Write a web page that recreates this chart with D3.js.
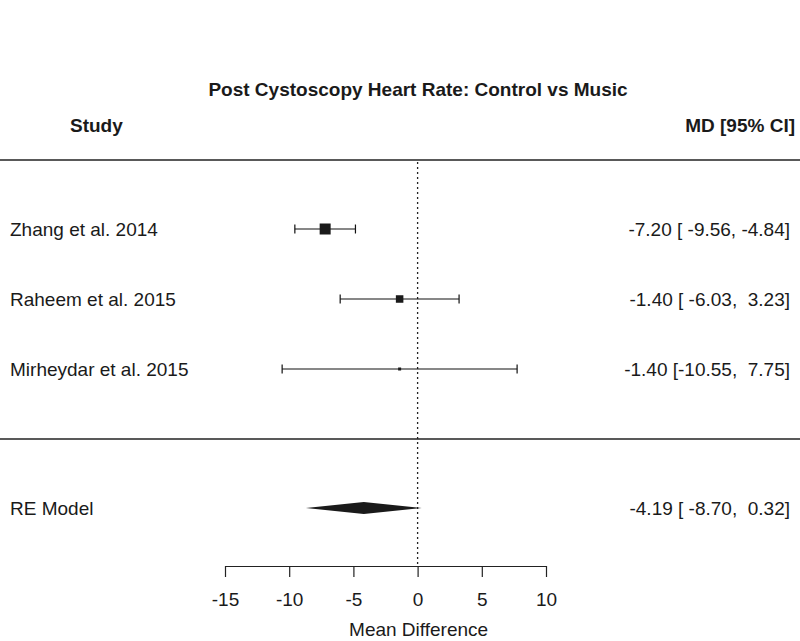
<!DOCTYPE html>
<html>
<head>
<meta charset="utf-8">
<script src="https://cdn.jsdelivr.net/npm/d3@7"></script>
<style>
  body { margin: 0; background: #fff; }
  text { font-family: "Liberation Sans", Arial, sans-serif; fill: #1a1a1a; }
</style>
</head>
<body>
<div id="chart"></div>
<script>
const studies = ["Zhang et al. 2014", "Raheem et al. 2015", "Mirheydar et al. 2015"];
const md = [-7.20, -1.40, -1.40];
const lower = [-9.56, -6.03, -10.55];
const upper = [-4.84, 3.23, 7.75];
const weights = [52, 35, 13];
const pooled = { label: "RE Model", md: -4.19, lower: -8.70, upper: 0.32 };
const xTicks = [-15, -10, -5, 0, 5, 10];

const width = 800, height = 641;
const fs = "19px";
const fmt = v => d3.format(".2f")(v).replace("\u2212", "-");
const pad = (v, n) => { const s = fmt(v); return " ".repeat(Math.max(0, n - s.length)) + s; };

const svg = d3.select("#chart").append("svg")
  .attr("width", width).attr("height", height);

const x = d3.scaleLinear().domain([-15, 10]).range([225, 546]);
// row positions: 3 studies, gap, pooled
const y = d3.scaleLinear().domain([0, 1]).range([229, 299]);
const rowY = i => y(i);
const pooledY = y(4) - 1;
const size = d3.scaleLinear().domain(d3.extent(weights)).range([3, 11]);

// title and headers
svg.append("text").attr("x", 418).attr("y", 96).attr("text-anchor", "middle")
  .style("font-size", fs).style("font-weight", "bold")
  .text("Post Cystoscopy Heart Rate: Control vs Music");
svg.append("text").attr("x", 70).attr("y", 132)
  .style("font-size", fs).style("font-weight", "bold").text("Study");
svg.append("text").attr("x", 795).attr("y", 132).attr("text-anchor", "end")
  .style("font-size", fs).style("font-weight", "bold").text("MD [95% CI]");

// separators
[160, 439].forEach(ly => svg.append("line")
  .attr("x1", 0).attr("x2", width).attr("y1", ly).attr("y2", ly)
  .attr("stroke", "#222").attr("stroke-width", 1.3));

// reference line at 0
svg.append("line")
  .attr("x1", x(0)).attr("x2", x(0)).attr("y1", 162).attr("y2", 566)
  .attr("stroke", "#222").attr("stroke-width", 1.3).attr("stroke-dasharray", "2,3");

// studies
const rows = svg.append("g").selectAll("g").data(studies).join("g");
rows.append("line")
  .attr("x1", (d, i) => x(lower[i])).attr("x2", (d, i) => x(upper[i]))
  .attr("y1", (d, i) => rowY(i)).attr("y2", (d, i) => rowY(i))
  .attr("stroke", "#111").attr("stroke-width", 1.2);
[lower, upper].forEach(arr => rows.append("line")
  .attr("x1", (d, i) => x(arr[i])).attr("x2", (d, i) => x(arr[i]))
  .attr("y1", (d, i) => rowY(i) - 4.5).attr("y2", (d, i) => rowY(i) + 4.5)
  .attr("stroke", "#111").attr("stroke-width", 1.2));
rows.append("rect")
  .attr("x", (d, i) => x(md[i]) - size(weights[i]) / 2)
  .attr("y", (d, i) => rowY(i) - size(weights[i]) / 2)
  .attr("width", (d, i) => size(weights[i]))
  .attr("height", (d, i) => size(weights[i]))
  .attr("fill", "#1a1a1a");
rows.append("text").attr("x", 10).attr("y", (d, i) => rowY(i) + 7)
  .style("font-size", fs).text(d => d);
rows.append("text").attr("x", 790).attr("y", (d, i) => rowY(i) + 7)
  .attr("text-anchor", "end").style("font-size", fs)
  .style("white-space", "pre").attr("xml:space", "preserve")
  .text((d, i) => `${fmt(md[i])} [${pad(lower[i], 6)}, ${pad(upper[i], 5)}]`);

// pooled diamond
svg.append("path")
  .attr("d", `M${x(pooled.lower)},${pooledY} L${x(pooled.md)},${pooledY - 6} L${x(pooled.upper)},${pooledY} L${x(pooled.md)},${pooledY + 6} Z`)
  .attr("fill", "#1a1a1a");
svg.append("text").attr("x", 10).attr("y", pooledY + 7)
  .style("font-size", fs).text(pooled.label);
svg.append("text").attr("x", 790).attr("y", pooledY + 7)
  .attr("text-anchor", "end").style("font-size", fs)
  .style("white-space", "pre").attr("xml:space", "preserve")
  .text(`${fmt(pooled.md)} [${pad(pooled.lower, 6)}, ${pad(pooled.upper, 5)}]`);

// axis
const axis = svg.append("g").attr("transform", "translate(0,566)")
  .call(d3.axisBottom(x).tickValues(xTicks).tickSize(11).tickSizeOuter(0)
    .tickPadding(16).tickFormat(d => String(d)));
axis.select(".domain").attr("stroke", "#222").attr("stroke-width", 1.2);
axis.selectAll(".tick line").attr("stroke", "#222").attr("stroke-width", 1.2);
axis.selectAll(".tick text").style("font-size", fs)
  .style("font-family", "'Liberation Sans', Arial, sans-serif").attr("fill", "#1a1a1a");

svg.append("text").attr("x", x(0) + 1).attr("y", 636).attr("text-anchor", "middle")
  .style("font-size", fs).text("Mean Difference");
</script>
</body>
</html>
